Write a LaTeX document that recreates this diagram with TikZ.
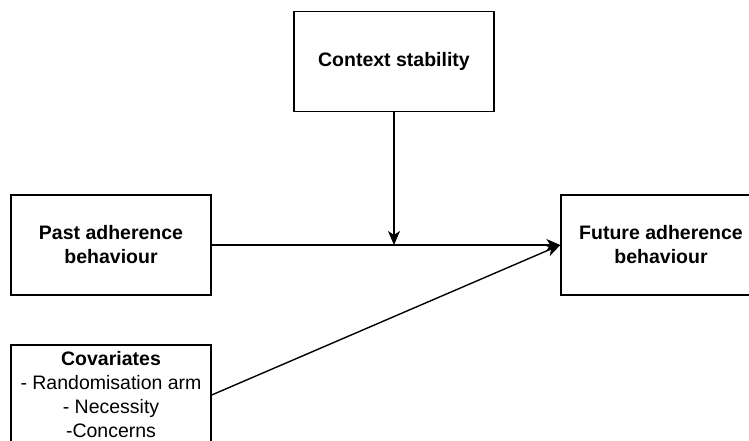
\documentclass[tikz,border=0pt]{standalone}
\usepackage{fontspec}
\setmainfont{Liberation Sans}
\usetikzlibrary{arrows.meta}
\begin{document}
\begin{tikzpicture}[x=1pt,y=-1pt,
  box/.style={draw=black, line width=1.4pt, fill=white, minimum width=200pt,
    minimum height=100pt, inner sep=0pt, align=center,
    font=\fontsize{19.5pt}{24pt}\selectfont},
  link/.style={draw=black, line width=1.4pt,
    -{Stealth[length=14pt, width=12pt, inset=4pt]}}]
  \useasboundingbox (0,0) rectangle (749,441);
  \clip (0,0) rectangle (749,441);
  \node[box] (ctx) at (394,61.5) {\textbf{Context stability}};
  \node[box] (past) at (111,245) {\textbf{Past adherence}\\\textbf{behaviour}};
  \node[box] (fut) at (661,245) {\textbf{Future adherence}\\\textbf{behaviour}};
  \node[box] (cov) at (111,395) {\textbf{Covariates}\\- Randomisation arm\\- Necessity\\-Concerns};
  \draw[link] (past.east) -- (fut.west);
  \draw[link] (cov.east) -- (fut.west);
  \draw[link] (ctx.south) -- (ctx.south |- past.east);
\end{tikzpicture}
\end{document}
